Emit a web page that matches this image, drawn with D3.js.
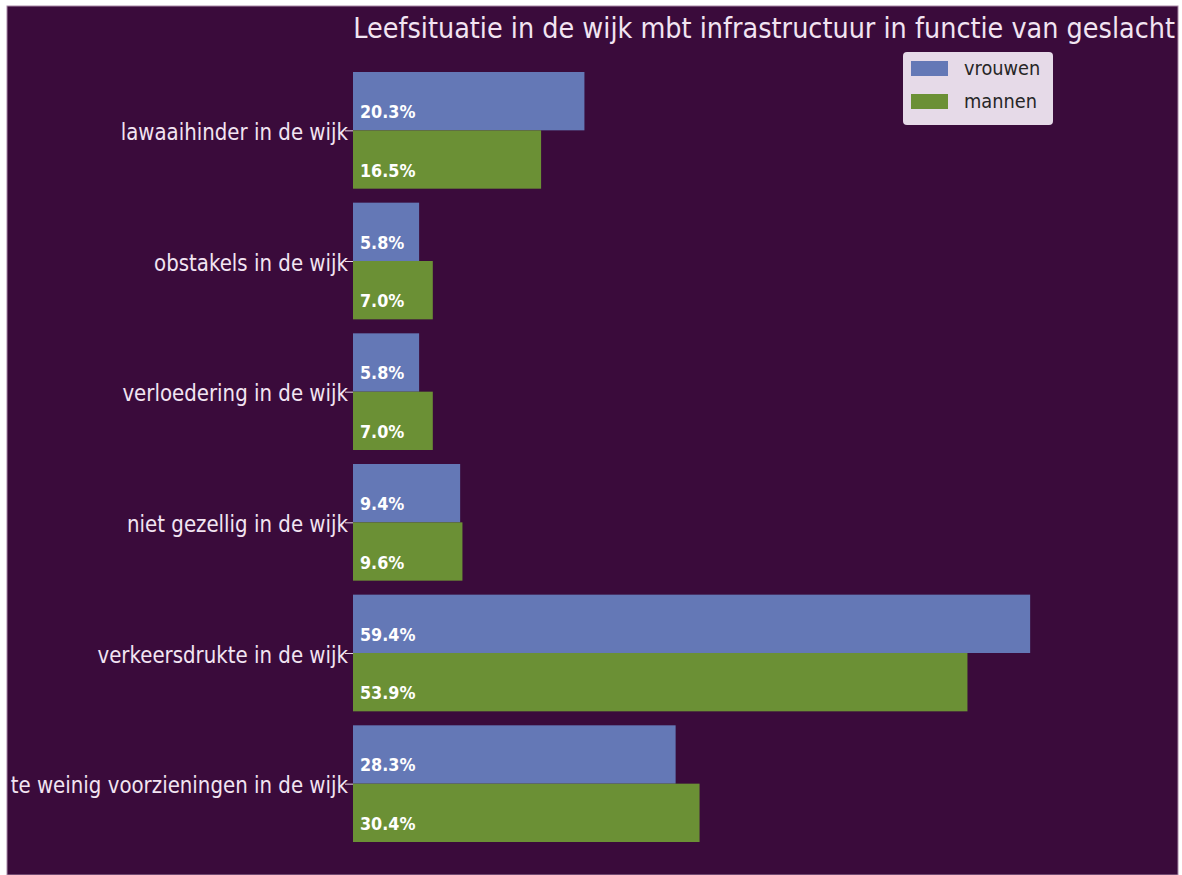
<!DOCTYPE html>
<html>
<head>
<meta charset="utf-8">
<script src="https://cdn.jsdelivr.net/npm/d3@7"></script>
<style>
  body { margin: 0; background: #ffffff; }
  svg { display: block; font-family: "DejaVu Sans", sans-serif; }
</style>
</head>
<body>
<svg id="chart"></svg>
<script>
var categories = ["lawaaihinder in de wijk", "obstakels in de wijk", "verloedering in de wijk",
                  "niet gezellig in de wijk", "verkeersdrukte in de wijk", "te weinig voorzieningen in de wijk"];
var vrouwen = [20.3, 5.8, 5.8, 9.4, 59.4, 28.3];
var mannen = [16.5, 7.0, 7.0, 9.6, 53.9, 30.4];
var seriesNames = ["vrouwen", "mannen"];
var seriesColors = ["#6478b6", "#6b9035"];

var width = 1182, height = 875;
var stretch = 1.12; // text in the picture is a bit taller than wide
var svg = d3.select("#chart").attr("width", width).attr("height", height);

// purple panel
svg.append("rect")
    .attr("x", 7).attr("y", 6)
    .attr("width", 1171).attr("height", height - 6)
    .attr("fill", "#3a0b3b")
    .attr("stroke", "#a98aa8").attr("stroke-width", 1);

var x = d3.scaleLinear().domain([0, 60]).range([353, 353 + 11.4 * 60]);
var y = d3.scaleBand().domain(categories).range([72, 842]).paddingInner(0.107).paddingOuter(0);
var ySub = d3.scaleBand().domain(seriesNames).range([0, y.bandwidth()]);

var rows = categories.map(function(c, i){
    return {cat: c, vals: [vrouwen[i], mannen[i]]};
});

var g = svg.selectAll("g.grp").data(rows).enter().append("g")
    .attr("class", "grp")
    .attr("transform", function(d){ return "translate(0," + y(d.cat) + ")"; });

g.selectAll("rect").data(function(d){ return d.vals; }).enter().append("rect")
    .attr("x", x(0))
    .attr("y", function(d, i){ return ySub(seriesNames[i]); })
    .attr("width", function(d){ return x(d) - x(0); })
    .attr("height", ySub.bandwidth())
    .attr("fill", function(d, i){ return seriesColors[i]; });

g.selectAll("text.val").data(function(d){ return d.vals; }).enter().append("text")
    .attr("class", "val")
    .attr("transform", function(d, i){
        return "translate(" + (x(0) + 7) + "," + (ySub(seriesNames[i]) + ySub.bandwidth() / 2 + 17) + ") scale(1," + stretch + ")";
    })
    .attr("fill", "#ffffff")
    .attr("font-weight", "bold")
    .attr("font-size", 16)
    .text(function(d){ return d.toFixed(1) + "%"; });

// y axis ticks and labels at center of each group
var yAxis = d3.axisLeft(d3.scalePoint().domain(categories)
        .range([y(categories[0]) + y.bandwidth() / 2, y(categories[categories.length - 1]) + y.bandwidth() / 2]))
    .tickSize(8).tickPadding(-3);
var ax = svg.append("g").attr("transform", "translate(" + x(0) + ",0)").call(yAxis);
ax.select(".domain").remove();
ax.selectAll(".tick line").attr("stroke", "#e8d8e8");
ax.selectAll(".tick text")
    .attr("fill", "#f2e4f2")
    .attr("font-size", 19.8)
    .attr("font-family", "DejaVu Sans, sans-serif")
    .attr("transform", "translate(0,2) scale(1," + stretch + ")");

// title
svg.append("text")
    .attr("transform", "translate(1175,38) scale(1," + stretch + ")")
    .attr("text-anchor", "end")
    .attr("fill", "#f2e4f2")
    .attr("font-size", 25.6)
    .text("Leefsituatie in de wijk mbt infrastructuur in functie van geslacht");

// legend
var leg = svg.append("g").attr("transform", "translate(903,52)");
leg.append("rect")
    .attr("width", 150).attr("height", 73).attr("rx", 4)
    .attr("fill", "#e6dae8");
seriesNames.forEach(function(name, i){
    leg.append("rect")
        .attr("x", 8).attr("y", 9 + i * 33)
        .attr("width", 37).attr("height", 15)
        .attr("fill", seriesColors[i]);
    leg.append("text")
        .attr("transform", "translate(61," + (23 + i * 33) + ") scale(1," + stretch + ")")
        .attr("fill", "#262626")
        .attr("font-size", 17.8)
        .text(name);
});
</script>
</body>
</html>
